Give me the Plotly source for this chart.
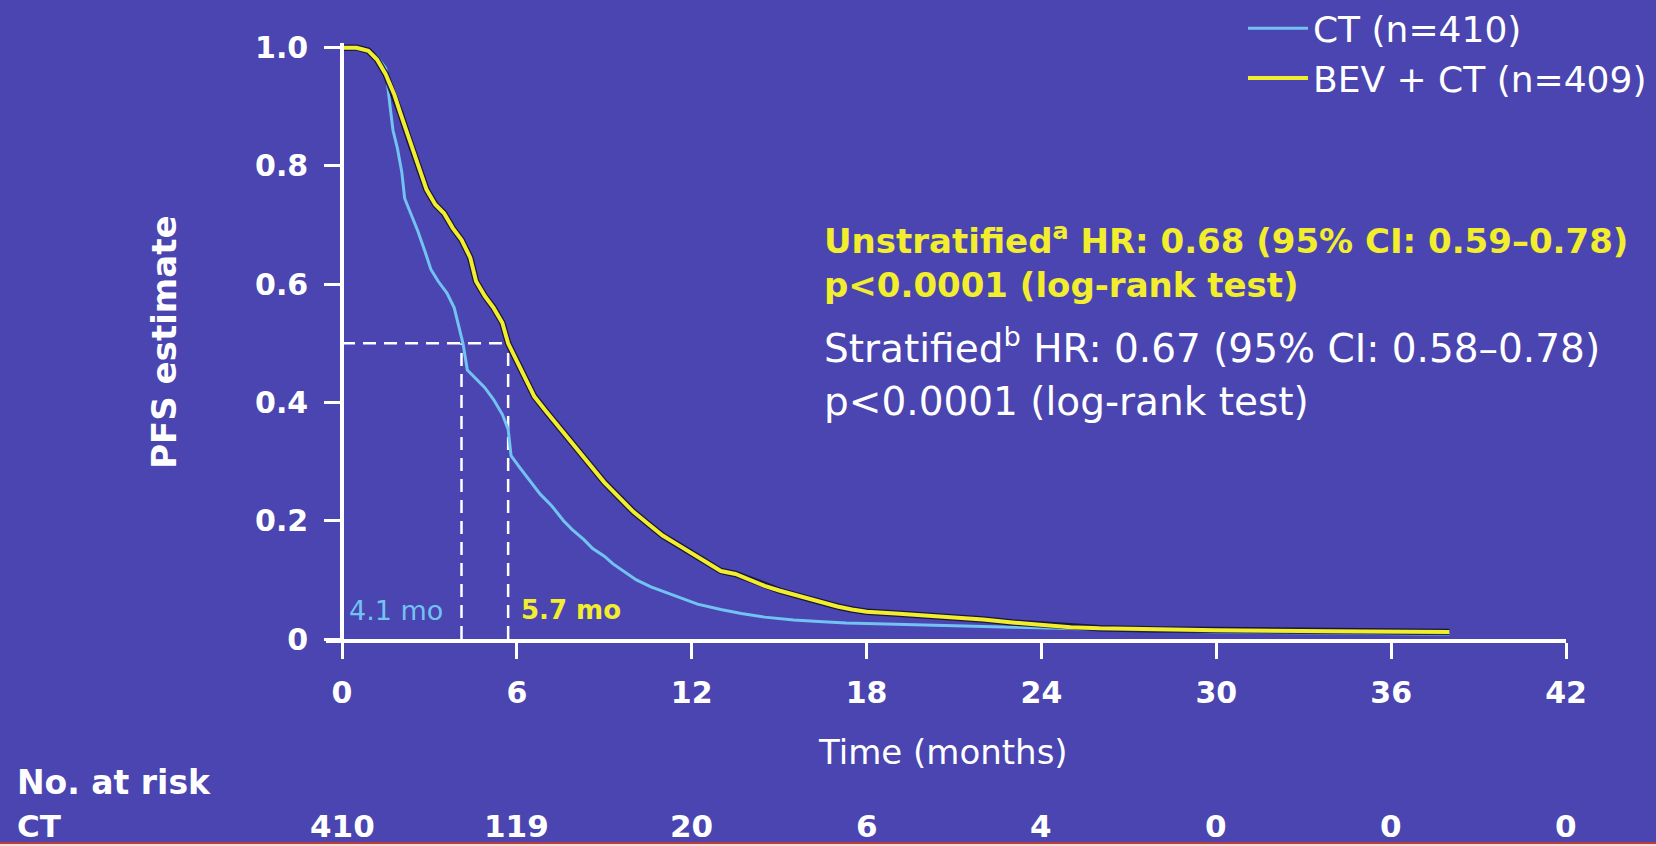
import plotly.graph_objects as go

# ---------------- data ----------------
ct_t = [0, 0.8, 1.2, 1.5, 1.65, 1.75, 1.9, 2.05, 2.15, 2.4, 2.6, 2.85, 3.05, 3.3, 3.6,
        3.85, 4.0, 4.15, 4.3, 4.6, 4.9, 5.2, 5.5, 5.7, 5.8, 6.1, 6.4, 6.8, 7.2, 7.6,
        7.9, 8.3, 8.6, 9.0, 9.3, 9.7, 10.1, 10.6, 11.2, 11.7, 12.2, 13.0, 13.7, 14.5,
        15.5, 16.5, 17.3, 19, 21, 23, 24.6, 27, 30, 34, 38]
ct_s = [1.0, 0.995, 0.985, 0.965, 0.90, 0.86, 0.83, 0.79, 0.745, 0.715, 0.69, 0.655,
        0.625, 0.605, 0.585, 0.56, 0.53, 0.50, 0.455, 0.44, 0.425, 0.405, 0.38, 0.355,
        0.31, 0.29, 0.27, 0.245, 0.225, 0.20, 0.185, 0.168, 0.153, 0.14, 0.127, 0.113,
        0.10, 0.088, 0.077, 0.068, 0.059, 0.05, 0.043, 0.037, 0.032, 0.029, 0.027,
        0.025, 0.023, 0.02, 0.018, 0.015, 0.012, 0.01, 0.008]

bev_t = [0, 0.5, 0.9, 1.2, 1.5, 1.8, 2.0, 2.3, 2.6, 2.9, 3.2, 3.5, 3.8, 4.1, 4.4, 4.6,
         4.9, 5.2, 5.5, 5.7, 6.0, 6.3, 6.6, 7.0, 7.5, 8.0, 8.5, 9.0, 9.5, 10.0, 10.5,
         11.0, 11.5, 12.0, 12.5, 13.0, 13.5, 14.0, 14.5, 15.0, 15.5, 16.0, 16.5, 17.0,
         17.5, 18.0, 19, 20, 21, 22, 23, 24, 25, 26, 28, 30, 34, 38]
bev_s = [1.0, 1.0, 0.995, 0.98, 0.955, 0.92, 0.89, 0.845, 0.80, 0.76, 0.735, 0.72,
         0.695, 0.675, 0.645, 0.605, 0.58, 0.56, 0.535, 0.50, 0.47, 0.44, 0.41, 0.385,
         0.355, 0.325, 0.295, 0.265, 0.24, 0.215, 0.195, 0.175, 0.16, 0.145, 0.13,
         0.115, 0.11, 0.10, 0.09, 0.082, 0.075, 0.068, 0.062, 0.055, 0.05, 0.046,
         0.043, 0.04, 0.036, 0.033, 0.028, 0.024, 0.02, 0.018, 0.016, 0.015, 0.013, 0.012]

median_ct = 4.1
median_bev = 5.7

x_ticks = [0, 6, 12, 18, 24, 30, 36, 42]
y_ticks = [0, 0.2, 0.4, 0.6, 0.8, 1.0]
y_ticktext = ["0", "0.2", "0.4", "0.6", "0.8", "1.0"]

risk_times = [0, 6, 12, 18, 24, 30, 36, 42]
risk_ct = [410, 119, 20, 6, 4, 0, 0, 0]

legend_names = ["CT (n=410)", "BEV + CT (n=409)"]
unstrat_text = ("Unstratified<sup>a</sup> HR: 0.68 (95% CI: 0.59–0.78)<br>"
                "p<0.0001 (log-rank test)")
strat_lines = [
    "Stratified<sup>b</sup> HR: 0.67 (95% CI: 0.58–0.78)",
    "p<0.0001 (log-rank test)",
]

# ---------------- style ----------------
BG = "#4A45B0"
BLUE = "#72C2F2"
YELLOW = "#F2EE2E"
WHITE = "#FFFFFF"
FONT = "DejaVu Sans, sans-serif"

fig = go.Figure()

# median reference lines
dash = "13px,8px"
fig.add_trace(go.Scatter(x=[0, median_bev], y=[0.5, 0.5], mode="lines",
                         line=dict(color=WHITE, width=2.5, dash=dash),
                         showlegend=False, hoverinfo="skip"))
for m in (median_ct, median_bev):
    fig.add_trace(go.Scatter(x=[m, m], y=[0, 0.5], mode="lines",
                             line=dict(color=WHITE, width=2.5, dash=dash),
                             showlegend=False, hoverinfo="skip"))

# CT curve
fig.add_trace(go.Scatter(x=ct_t, y=ct_s, mode="lines", name=legend_names[0],
                         line=dict(color=BLUE, width=3)))
# BEV + CT shadow + curve
fig.add_trace(go.Scatter(x=bev_t, y=bev_s, mode="lines", showlegend=False,
                         line=dict(color="rgba(15,15,40,0.85)", width=6.5),
                         hoverinfo="skip"))
fig.add_trace(go.Scatter(x=bev_t, y=bev_s, mode="lines", name=legend_names[1],
                         line=dict(color=YELLOW, width=4)))

axis_common = dict(showline=True, linecolor=WHITE, linewidth=3.5, ticks="outside",
                   ticklen=16, tickwidth=3, tickcolor=WHITE, showgrid=False,
                   zeroline=False,
                   tickfont=dict(family=FONT, size=30, color=WHITE, weight="bold"))

fig.update_layout(
    width=1656, height=846,
    margin=dict(l=326, r=90, t=43, b=207, autoexpand=False),
    paper_bgcolor=BG, plot_bgcolor=BG,
    xaxis=dict(range=[-0.55, 42], tickvals=x_ticks, ticklabelstandoff=8, **axis_common),
    yaxis=dict(range=[0, 1.008], tickvals=y_ticks, ticktext=y_ticktext,
               anchor="free", position=0.0129,
               ticklabelstandoff=10, **axis_common),
    legend=dict(x=0.7395, y=1.075, xanchor="left", yanchor="top",
                bgcolor="rgba(0,0,0,0)", font=dict(family=FONT, size=36, color=WHITE),
                itemwidth=60, tracegroupgap=0),
    showlegend=True,
)

ann = []
# axis titles
ann.append(dict(text="PFS estimate", xref="paper", yref="paper", x=-0.1306, y=0.497,
                textangle=-90, showarrow=False, xanchor="center", yanchor="middle",
                font=dict(family=FONT, size=34, color=WHITE, weight="bold")))
ann.append(dict(text="Time (months)", xref="paper", yref="paper", x=0.4976, y=-0.19,
                showarrow=False, xanchor="center", yanchor="middle",
                font=dict(family=FONT, size=34, color=WHITE)))
# stats text
ann.append(dict(text=unstrat_text, xref="paper", yref="paper", x=0.4, y=0.635,
                showarrow=False, xanchor="left", yanchor="middle", align="left",
                font=dict(family=FONT, size=34, color=YELLOW, weight="bold")))
for txt, yy in zip(strat_lines, [0.492, 0.399]):
    ann.append(dict(text=txt, xref="paper", yref="paper", x=0.4, y=yy,
                    showarrow=False, xanchor="left", yanchor="middle",
                    font=dict(family=FONT, size=39, color=WHITE)))
# median labels
ann.append(dict(text=f"{median_ct} mo", x=1.85, y=0.049, xref="x", yref="y",
                showarrow=False, font=dict(family=FONT, size=27, color=BLUE)))
ann.append(dict(text=f"{median_bev} mo", x=7.86, y=0.049, xref="x", yref="y",
                showarrow=False, font=dict(family=FONT, size=26, color=YELLOW, weight="bold")))
# number at risk
ann.append(dict(text="No. at risk", xref="paper", yref="paper", x=-0.2508, y=-0.2416,
                showarrow=False, xanchor="left", yanchor="middle",
                font=dict(family=FONT, size=33, color=WHITE, weight="bold")))
ann.append(dict(text="CT", xref="paper", yref="paper", x=-0.2508, y=-0.313,
                showarrow=False, xanchor="left", yanchor="middle",
                font=dict(family=FONT, size=31, color=WHITE, weight="bold")))
for t, n in zip(risk_times, risk_ct):
    ann.append(dict(text=str(n), x=t, xref="x", y=-0.313, yref="paper",
                    showarrow=False, xanchor="center", yanchor="middle",
                    font=dict(family=FONT, size=31, color=WHITE, weight="bold")))
fig.update_layout(annotations=ann)

# bottom page strip
fig.add_shape(type="rect", xref="paper", yref="paper", x0=-0.3, x1=1.1, y0=-0.36, y1=-0.3423,
              fillcolor="#EFE3DA", line=dict(width=0), layer="above")
fig.add_shape(type="line", xref="paper", yref="paper", x0=-0.3, x1=1.1, y0=-0.3423, y1=-0.3423,
              line=dict(color="#C23A3A", width=2), layer="above")

fig.write_html("out.html")
